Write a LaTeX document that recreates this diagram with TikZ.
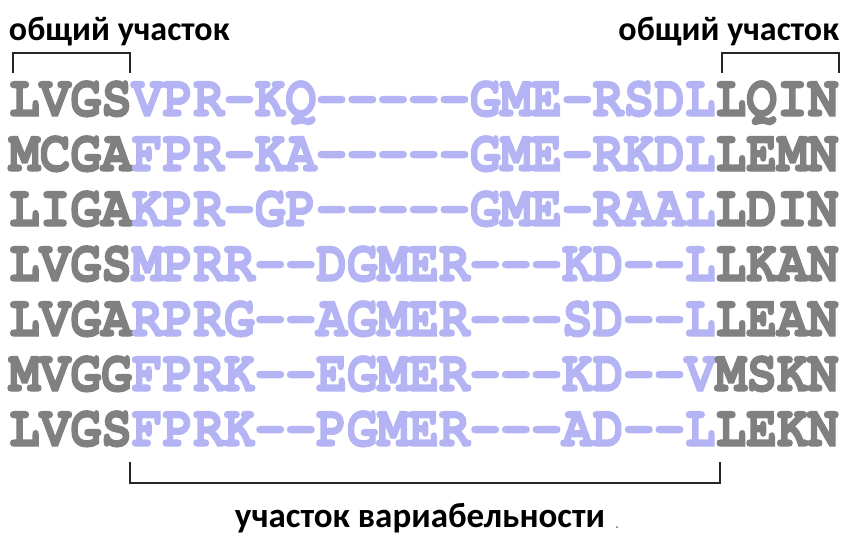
\documentclass[tikz,border=0pt]{standalone}
\usepackage{fontspec}
\setmainfont{Carlito}
\newfontfamily\seqfont[Ligatures=TeXOff, BoldFeatures={FakeBold=2.5}]{TeX Gyre Cursor}
\definecolor{seqgray}{RGB}{128,128,128}
\definecolor{seqblue}{RGB}{180,180,245}
\newcommand{\seqrow}[3]{\scalebox{1}[1.15]{\seqfont\bfseries\fontsize{51.2}{51.2}\selectfont\textcolor{seqgray}{#1}\textcolor{seqblue}{#2}\textcolor{seqgray}{#3}}}
\tikzset{
  seq/.style={anchor=base west, inner sep=0pt, outer sep=0pt},
  lab/.style={inner sep=0pt, outer sep=0pt, font=\bfseries\fontsize{34}{34}\selectfont},
  blab/.style={inner sep=0pt, outer sep=0pt, font=\bfseries\fontsize{35}{35}\selectfont},
  brk/.style={draw=black!85, line width=1.2pt}
}
\begin{document}
\begin{tikzpicture}[x=1pt,y=1pt]
\useasboundingbox (0,0) rectangle (845,-544);
\node[lab, anchor=base west] (tl) at (9,-40) {общий участок};
\node[lab, anchor=base east] (tr) at (839,-40) {общий участок};
\node[seq] (r1) at (9,-116) {\seqrow{LVGS}{VPR-KQ-----GME-RSDL}{LQIN}};
\node[seq] (r2) at (9,-171) {\seqrow{MCGA}{FPR-KA-----GME-RKDL}{LEMN}};
\node[seq] (r3) at (9,-226) {\seqrow{LIGA}{KPR-GP-----GME-RAAL}{LDIN}};
\node[seq] (r4) at (9,-281) {\seqrow{LVGS}{MPRR--DGMER---KD--L}{LKAN}};
\node[seq] (r5) at (9,-336) {\seqrow{LVGA}{RPRG--AGMER---SD--L}{LEAN}};
\node[seq] (r6) at (9,-391) {\seqrow{MVGG}{FPRK--EGMER---KD--V}{MSKN}};
\node[seq] (r7) at (9,-446) {\seqrow{LVGS}{FPRK--PGMER---AD--L}{LEKN}};
\node[blab, anchor=base] (bl) at (420,-527) {участок вариабельности};
\node[circle, fill=black!60, inner sep=0pt, minimum size=2pt] (dot) at (617,-527) {};
\coordinate (a1) at (13,-73); \coordinate (a2) at (13,-53);
\coordinate (a3) at (130,-53); \coordinate (a4) at (130,-73);
\draw[brk] (a1) -- (a2) -- (a3) -- (a4);
\coordinate (b1) at (722,-73); \coordinate (b2) at (722,-53);
\coordinate (b3) at (839,-53); \coordinate (b4) at (839,-73);
\draw[brk] (b1) -- (b2) -- (b3) -- (b4);
\coordinate (c1) at (130,-462); \coordinate (c2) at (130,-483);
\coordinate (c3) at (720,-483); \coordinate (c4) at (720,-462);
\draw[brk] (c1) -- (c2) -- (c3) -- (c4);
\end{tikzpicture}
\end{document}
